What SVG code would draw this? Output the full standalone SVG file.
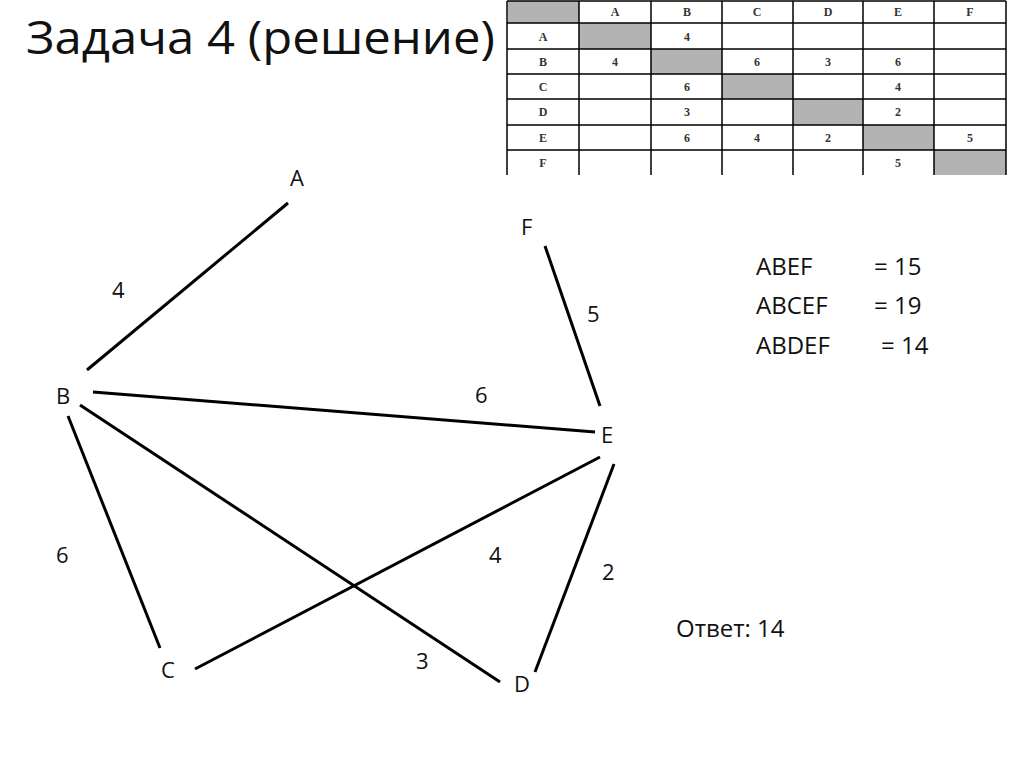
<svg xmlns="http://www.w3.org/2000/svg" width="1024" height="767" viewBox="0 0 1024 767">
<style>
.t{font-family:"Open Sans","Liberation Sans",sans-serif;fill:#111}
.n{font-size:22px}
.w{font-size:22px}
.tb{font-family:"Liberation Serif",serif;font-size:12px;font-weight:bold;text-anchor:middle;fill:#333}
.g{fill:#b3b3b3}
.e{stroke:#000;stroke-width:3;fill:none}
</style>
<rect width="1024" height="767" fill="#fff"/>
<text class="t" x="26" y="54" font-size="46" textLength="469" lengthAdjust="spacingAndGlyphs">Задача 4 (решение)</text>
<g id="table">
<rect x="507" y="1" width="499" height="174" fill="#fff"/>
<rect class="g" x="508" y="1" width="71" height="22"/>
<rect class="g" x="579" y="23" width="72" height="26"/>
<rect class="g" x="651" y="49" width="71" height="25"/>
<rect class="g" x="722" y="74" width="71" height="25"/>
<rect class="g" x="793" y="99" width="70" height="26"/>
<rect class="g" x="863" y="125" width="71" height="25"/>
<rect class="g" x="934" y="150" width="72" height="25"/>
<g stroke="#000" stroke-width="1.5">
<path d="M507 1H1006M507 23H1006M507 49H1006M507 74H1006M507 99H1006M507 125H1006M507 150H1006"/>
<path d="M507 1V175M579 1V175M651 1V175M722 1V175M793 1V175M863 1V175M934 1V175M1006 1V175"/>
</g>
<g class="tb">
<text x="615" y="16">A</text><text x="687" y="16">B</text><text x="757" y="16">C</text><text x="828" y="16">D</text><text x="898" y="16">E</text><text x="970" y="16">F</text>
<text x="543" y="41">A</text><text x="543" y="66">B</text><text x="543" y="91">C</text><text x="543" y="116">D</text><text x="543" y="142">E</text><text x="543" y="167">F</text>
<text x="687" y="41">4</text>
<text x="615" y="66">4</text><text x="757" y="66">6</text><text x="828" y="66">3</text><text x="898" y="66">6</text>
<text x="687" y="91">6</text><text x="898" y="91">4</text>
<text x="687" y="116">3</text><text x="898" y="116">2</text>
<text x="687" y="142">6</text><text x="757" y="142">4</text><text x="828" y="142">2</text><text x="970" y="142">5</text>
<text x="898" y="167">5</text>
</g>
</g>
<g id="edges">
<line class="e" x1="288" y1="203" x2="87" y2="370"/>
<line class="e" x1="93" y1="392" x2="595" y2="432"/>
<line class="e" x1="68" y1="416" x2="160" y2="648"/>
<line class="e" x1="80" y1="405" x2="500" y2="682"/>
<line class="e" x1="545" y1="246" x2="600" y2="406"/>
<line class="e" x1="600" y1="457" x2="195" y2="669"/>
<line class="e" x1="614" y1="464" x2="535" y2="672"/>
</g>
<g id="A"><text class="t n" x="290" y="186">A</text></g>
<g id="F"><text class="t n" x="521" y="235">F</text></g>
<g id="B"><text class="t n" x="56" y="404">B</text></g>
<g id="E"><text class="t n" x="601" y="443">E</text></g>
<g id="C"><text class="t n" x="161" y="678">C</text></g>
<g id="D"><text class="t n" x="514" y="692">D</text></g>
<g id="labels" class="t w">
<text x="112" y="298">4</text>
<text x="587" y="322">5</text>
<text x="475" y="403">6</text>
<text x="56" y="563">6</text>
<text x="489" y="563">4</text>
<text x="602" y="580">2</text>
<text x="416" y="669">3</text>
</g>
<g class="t" font-size="24">
<text x="756" y="275">ABEF</text><text x="874" y="275">= 15</text>
<text x="756" y="314">ABCEF</text><text x="874" y="314">= 19</text>
<text x="756" y="354">ABDEF</text><text x="881" y="354">= 14</text>
<text x="676" y="637">Ответ: 14</text>
</g>
</svg>
